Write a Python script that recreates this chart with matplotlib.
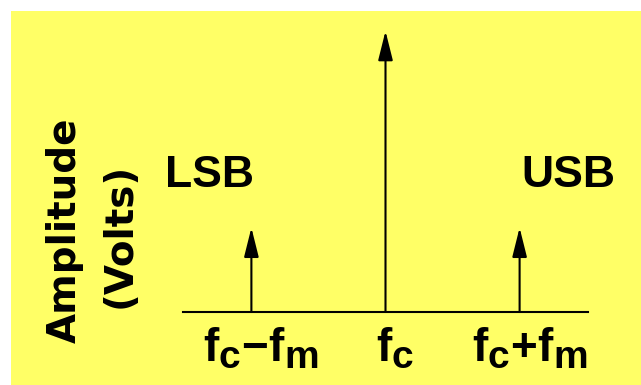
import matplotlib
matplotlib.use("Agg")
import matplotlib.pyplot as plt
import matplotlib._mathtext as _mt
from matplotlib.patches import Rectangle
from matplotlib.transforms import ScaledTranslation

# Spectrum of an AM signal: carrier plus lower and upper sidebands
freq_positions = [-1, 0, 1]
freq_labels = [r"$f_c{-}f_m$", r"$f_c$", r"$f_c{+}f_m$"]
amplitudes = [0.30, 1.00, 0.30]
sideband_names = ["LSB", "USB"]
axis_title = ["Amplitude", "(Volts)"]

# Larger subscripts for the frequency labels
_mt.SHRINK_FACTOR = 0.85

plt.rcParams["mathtext.fontset"] = "custom"
plt.rcParams["mathtext.rm"] = "Liberation Sans:bold"
plt.rcParams["mathtext.bf"] = "Liberation Sans:bold"
plt.rcParams["mathtext.it"] = "Liberation Sans:bold"
plt.rcParams["mathtext.default"] = "rm"

W, H = 641, 385
fig = plt.figure(figsize=(W / 100, H / 100), dpi=100)
fig.patch.set_facecolor("white")

# yellow panel
fig.add_artist(Rectangle((11 / W, 0), 1 - 11 / W, (H - 11) / H,
                         transform=fig.transFigure, facecolor="#FFFF66",
                         edgecolor="none", zorder=0))

ax = fig.add_axes([183 / W, (H - 312) / H, 405 / W, (312 - 31) / H])
ax.set_facecolor("none")
ax.set_xlim(-1.51, 1.51)
ax.set_ylim(0, 1)
for side in ("left", "right", "top"):
    ax.spines[side].set_visible(False)
ax.spines["bottom"].set_linewidth(1.5)
ax.spines["bottom"].set_color("black")
ax.set_yticks([])
ax.set_xticks(freq_positions, freq_labels)
ax.tick_params(axis="x", length=0, pad=10, labelsize=33, colors="black")
shift = ScaledTranslation(7 / 72, 0, fig.dpi_scale_trans)
for lbl in ax.get_xticklabels():
    lbl.set_transform(lbl.get_transform() + shift)

# spectral lines as arrows
for x, a in zip(freq_positions, amplitudes):
    ax.annotate("", xy=(x, a), xytext=(x, 0), annotation_clip=False,
                arrowprops=dict(arrowstyle="-|>,head_length=1.8,head_width=0.45",
                                mutation_scale=10, lw=1.5, color="black",
                                shrinkA=0, shrinkB=0))

txt = dict(fontsize=32, fontweight="bold", family="Liberation Sans", color="black")
ax.text(-1.313, 0.445, sideband_names[0], ha="center", va="baseline", **txt)
ax.text(1.362, 0.445, sideband_names[1], ha="center", va="baseline", **txt)

ylab = dict(rotation=90, ha="center", va="center", fontsize=28,
            fontweight="bold", family="DejaVu Sans", color="black")
fig.text(65 / W, 1 - 230 / H, axis_title[0], **ylab)
fig.text(120 / W, 1 - 235 / H, axis_title[1], **ylab)

fig.savefig("out.png", dpi=100)
